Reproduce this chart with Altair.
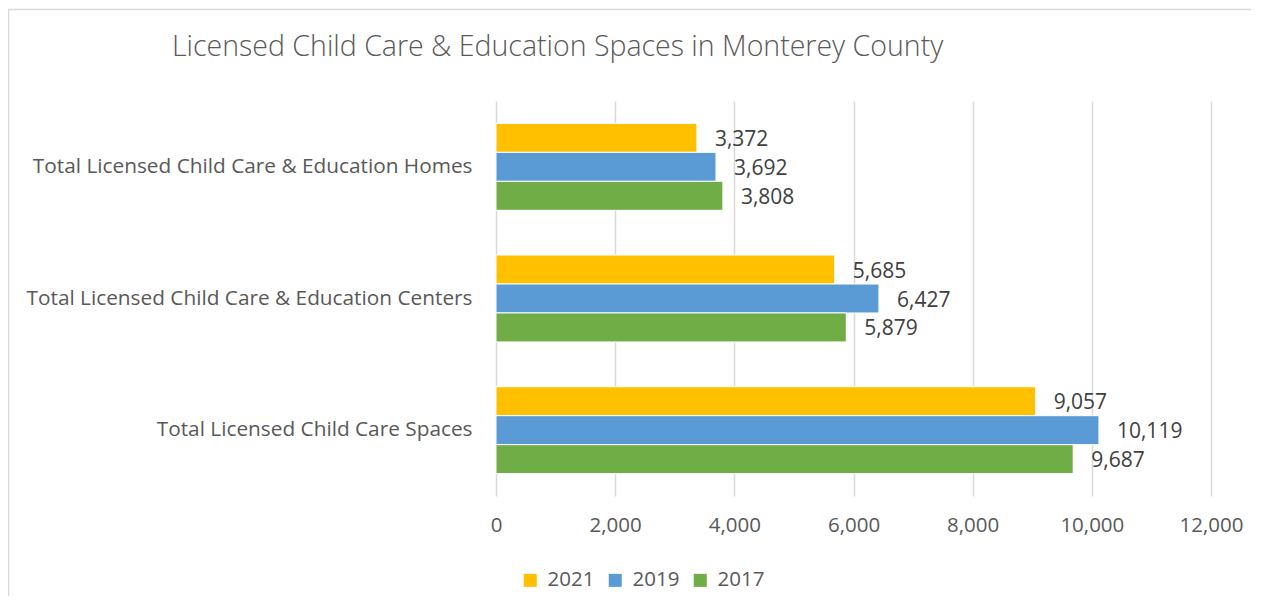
import altair as alt
import pandas as pd

categories = [
    "Total Licensed Child Care & Education Homes",
    "Total Licensed Child Care & Education Centers",
    "Total Licensed Child Care Spaces",
]
years = ["2021", "2019", "2017"]
values_2021 = [3372, 5685, 9057]
values_2019 = [3692, 6427, 10119]
values_2017 = [3808, 5879, 9687]
colors = ["#FFC000", "#5B9BD5", "#70AD47"]
x_ticks = [0, 2000, 4000, 6000, 8000, 10000, 12000]
title_text = "Licensed Child Care & Education Spaces in Monterey County"

rows = []
for yr, vals in zip(years, [values_2021, values_2019, values_2017]):
    for c, v in zip(categories, vals):
        rows.append({"category": c, "year": yr, "value": v})
df = pd.DataFrame(rows)

FONT = "Open Sans"
W, H = 715, 395

y_enc = alt.Y("category:N", sort=categories,
              scale=alt.Scale(paddingInner=0.34, paddingOuter=0.17),
              axis=alt.Axis(title=None, domain=False, ticks=False, labelPadding=24,
                            labelFontSize=20.8, labelColor="#595959", labelFont=FONT,
                            labelLimit=600))
x_enc = alt.X("value:Q", scale=alt.Scale(domain=[0, 12000], nice=False),
              axis=alt.Axis(title=None, values=x_ticks, format=",d", domain=False, ticks=False,
                            labelFlush=False, labelPadding=19, labelFontSize=20.5,
                            labelColor="#595959", labelFont=FONT,
                            gridColor="#d9d9d9", gridWidth=1.5))
yoff = alt.YOffset("year:N", sort=years, scale=alt.Scale(paddingInner=0, paddingOuter=0))
color = alt.Color("year:N", sort=years, scale=alt.Scale(domain=years, range=colors),
                  legend=alt.Legend(title=None, orient="none", direction="horizontal",
                                    legendX=24, legendY=469, symbolType="square",
                                    symbolSize=170, symbolStrokeWidth=0, labelFontSize=20.5,
                                    labelColor="#595959", labelFont=FONT, columnPadding=10,
                                    labelOffset=7))

bars = alt.Chart(df).mark_bar(stroke="white", strokeWidth=1).encode(
    y=y_enc, x=x_enc, yOffset=yoff, color=color)

labels = alt.Chart(df).mark_text(align="left", baseline="middle", dx=18, dy=2,
                                 fontSize=21, font=FONT, color="#404040").encode(
    y=alt.Y("category:N", sort=categories),
    x=alt.X("value:Q", axis=alt.Axis(format=",d")),
    yOffset=yoff,
    text=alt.Text("value:Q", format=","))

one = pd.DataFrame({"k": [0]})
border_top = alt.Chart(one).mark_rule(stroke="#d9d9d9", strokeWidth=1.5, clip=False).encode(
    x=alt.value(-488), x2=alt.value(900), y=alt.value(-91.5))
border_left = alt.Chart(one).mark_rule(stroke="#d9d9d9", strokeWidth=1.5, clip=False).encode(
    x=alt.value(-487.5), y=alt.value(-92), y2=alt.value(700))

title = alt.Chart(pd.DataFrame({"t": [title_text]})).mark_text(
    align="left", baseline="alphabetic", fontSize=28.5, font=FONT, fontWeight=300,
    color="#595959").encode(text="t:N", x=alt.value(-324), y=alt.value(-45))

chart = alt.layer(border_top, border_left, title, bars, labels).properties(
    width=W, height=H,
    autosize=alt.AutoSizeParams(type="none"),
    padding={"left": 488, "top": 93, "right": 40, "bottom": 100},
).configure_view(stroke=None)

chart.save("out.html", embed_options={"renderer": "svg", "actions": False})
